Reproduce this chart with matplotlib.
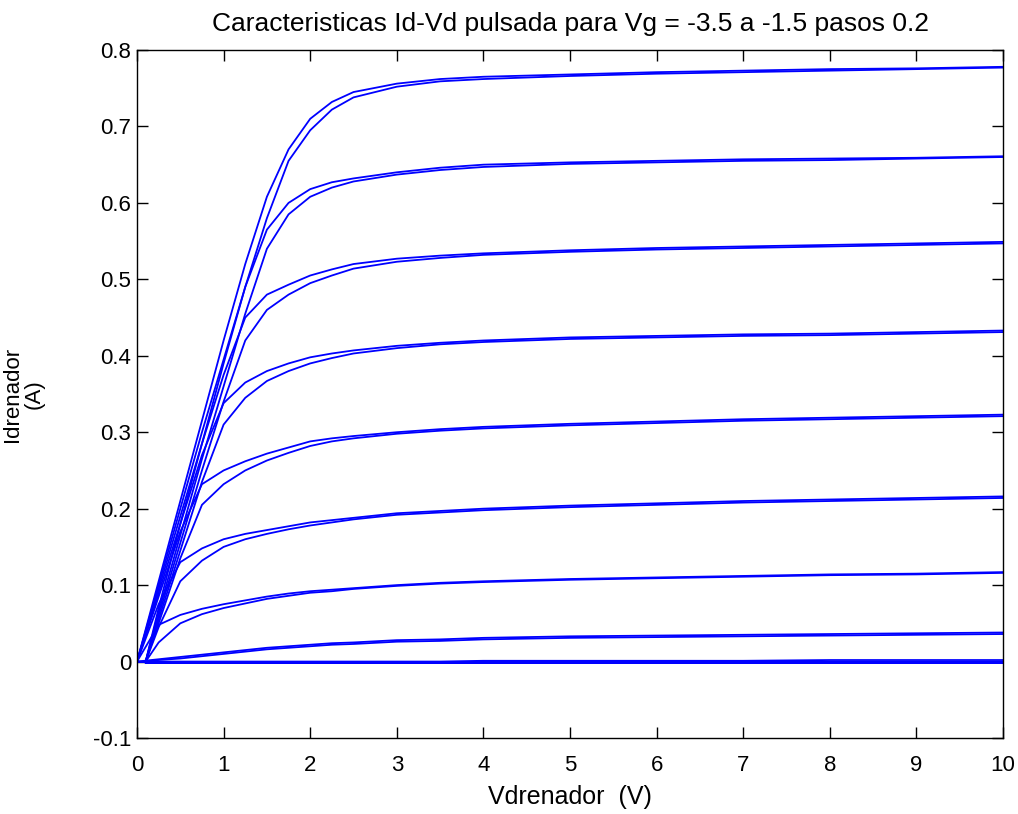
import matplotlib
matplotlib.use("Agg")
import matplotlib.pyplot as plt

plt.rcParams['font.family'] = ['Liberation Sans', 'DejaVu Sans']

# Drain voltage grids (V)
vd_a = [0, 0.25, 0.5, 0.75, 1.0, 1.25, 1.5, 1.75, 2.0, 2.25, 2.5, 3.0, 3.5, 4.0, 5, 6, 7, 8, 9, 10]
vd_b = [0.1, 0.25, 0.5, 0.75, 1.0, 1.25, 1.5, 1.75, 2.0, 2.25, 2.5, 3.0, 3.5, 4.0, 5, 6, 7, 8, 9, 10]

# Drain current (A), sweep A, Vg = -1.5 ... -3.5
id_a_m15 = [0, 0.105, 0.21, 0.315, 0.42, 0.52, 0.608, 0.67, 0.71, 0.732, 0.745, 0.756, 0.762, 0.765, 0.768, 0.771, 0.773, 0.775, 0.776, 0.778]
id_a_m17 = [0, 0.10, 0.20, 0.30, 0.395, 0.49, 0.565, 0.60, 0.618, 0.627, 0.632, 0.64, 0.646, 0.65, 0.653, 0.655, 0.657, 0.658, 0.659, 0.661]
id_a_m19 = [0, 0.095, 0.19, 0.285, 0.375, 0.45, 0.48, 0.493, 0.505, 0.513, 0.52, 0.527, 0.531, 0.534, 0.538, 0.541, 0.543, 0.545, 0.547, 0.549]
id_a_m21 = [0, 0.09, 0.18, 0.27, 0.338, 0.365, 0.38, 0.39, 0.398, 0.403, 0.407, 0.413, 0.417, 0.42, 0.424, 0.426, 0.428, 0.429, 0.431, 0.433]
id_a_m23 = [0, 0.085, 0.17, 0.232, 0.25, 0.262, 0.272, 0.28, 0.288, 0.292, 0.295, 0.30, 0.304, 0.307, 0.311, 0.314, 0.317, 0.319, 0.321, 0.323]
id_a_m25 = [0, 0.075, 0.13, 0.148, 0.16, 0.167, 0.172, 0.177, 0.182, 0.185, 0.188, 0.194, 0.197, 0.20, 0.204, 0.207, 0.21, 0.212, 0.214, 0.216]
id_a_m27 = [0, 0.048, 0.061, 0.069, 0.075, 0.08, 0.085, 0.089, 0.092, 0.094, 0.096, 0.10, 0.103, 0.105, 0.108, 0.11, 0.112, 0.114, 0.115, 0.117]
id_a_m29 = [0, 0.003, 0.006, 0.009, 0.012, 0.015, 0.018, 0.02, 0.022, 0.024, 0.025, 0.028, 0.029, 0.031, 0.033, 0.034, 0.035, 0.036, 0.037, 0.038]
id_a_m31 = [0, 0, 0, 0, 0, 0, 0, 0, 0, 0, 0, 0, 0, 0.001, 0.001, 0.001, 0.001, 0.002, 0.002, 0.002]
id_a_m33 = [0, 0, 0, 0, 0, 0, 0, 0, 0, 0, 0, 0, 0, 0, 0, 0, 0, 0, 0, 0]
id_a_m35 = [0, 0, 0, 0, 0, 0, 0, 0, 0, 0, 0, 0, 0, 0, 0, 0, 0, 0, 0, 0]

# Drain current (A), sweep B
id_b_m15 = [0, 0.07, 0.18, 0.285, 0.39, 0.49, 0.58, 0.655, 0.695, 0.722, 0.738, 0.752, 0.759, 0.762, 0.766, 0.769, 0.771, 0.773, 0.775, 0.777]
id_b_m17 = [0, 0.065, 0.165, 0.265, 0.36, 0.455, 0.54, 0.585, 0.608, 0.62, 0.628, 0.637, 0.643, 0.647, 0.651, 0.653, 0.655, 0.656, 0.658, 0.66]
id_b_m19 = [0, 0.06, 0.155, 0.25, 0.34, 0.42, 0.46, 0.48, 0.495, 0.505, 0.514, 0.523, 0.528, 0.532, 0.536, 0.539, 0.541, 0.543, 0.545, 0.547]
id_b_m21 = [0, 0.055, 0.145, 0.235, 0.31, 0.345, 0.367, 0.38, 0.39, 0.397, 0.403, 0.41, 0.415, 0.418, 0.422, 0.424, 0.426, 0.427, 0.429, 0.431]
id_b_m23 = [0, 0.05, 0.135, 0.205, 0.232, 0.25, 0.263, 0.273, 0.282, 0.288, 0.292, 0.298, 0.302, 0.305, 0.309, 0.312, 0.315, 0.317, 0.319, 0.321]
id_b_m25 = [0, 0.045, 0.105, 0.132, 0.15, 0.16, 0.167, 0.173, 0.178, 0.182, 0.186, 0.192, 0.195, 0.198, 0.202, 0.205, 0.208, 0.21, 0.212, 0.214]
id_b_m27 = [0, 0.025, 0.05, 0.062, 0.07, 0.076, 0.082, 0.086, 0.09, 0.092, 0.095, 0.099, 0.102, 0.104, 0.107, 0.109, 0.111, 0.113, 0.114, 0.116]
id_b_m29 = [0, 0.002, 0.004, 0.007, 0.01, 0.013, 0.016, 0.018, 0.02, 0.022, 0.023, 0.026, 0.027, 0.029, 0.031, 0.032, 0.033, 0.034, 0.035, 0.036]
id_b_m31 = [-0.002, -0.002, -0.002, -0.002, -0.002, -0.002, -0.002, -0.002, -0.002, -0.002, -0.002, -0.002, -0.002, -0.001, -0.001, -0.001, -0.001, -0.001, -0.001, -0.001]
id_b_m33 = [-0.002, -0.002, -0.002, -0.002, -0.002, -0.002, -0.002, -0.002, -0.002, -0.002, -0.002, -0.002, -0.002, -0.002, -0.002, -0.002, -0.002, -0.002, -0.002, -0.002]
id_b_m35 = [-0.002, -0.002, -0.002, -0.002, -0.002, -0.002, -0.002, -0.002, -0.002, -0.002, -0.002, -0.002, -0.002, -0.002, -0.002, -0.002, -0.002, -0.002, -0.002, -0.002]

sweep_a = [id_a_m15, id_a_m17, id_a_m19, id_a_m21, id_a_m23, id_a_m25, id_a_m27, id_a_m29, id_a_m31, id_a_m33, id_a_m35]
sweep_b = [id_b_m15, id_b_m17, id_b_m19, id_b_m21, id_b_m23, id_b_m25, id_b_m27, id_b_m29, id_b_m31, id_b_m33, id_b_m35]

x_ticks = [0, 1, 2, 3, 4, 5, 6, 7, 8, 9, 10]
y_ticks = [-0.1, 0, 0.1, 0.2, 0.3, 0.4, 0.5, 0.6, 0.7, 0.8]
y_tick_labels = ['-0.1', '0', '0.1', '0.2', '0.3', '0.4', '0.5', '0.6', '0.7', '0.8']

fig = plt.figure(figsize=(10.18, 8.14), dpi=100)
ax = fig.add_axes([137 / 1018, 76 / 814, 866 / 1018, 688 / 814])

for ya, yb in zip(sweep_a, sweep_b):
    ax.plot(vd_a, ya, color=(0, 0, 1), lw=1.3)
    ax.plot(vd_b, yb, color=(0, 0, 1), lw=1.3)

ax.set_xlim(0, 10)
ax.set_ylim(-0.1, 0.8)
ax.set_xticks(x_ticks)
ax.set_xticklabels([str(t) for t in x_ticks])
ax.set_yticks(y_ticks)
ax.set_yticklabels(y_tick_labels)
ax.tick_params(direction='in', length=8, width=1, top=True, right=True,
               labelsize=16, colors='black')
ax.tick_params(axis='x', pad=12)
ax.tick_params(axis='y', pad=4)
for s in ax.spines.values():
    s.set_linewidth(1.0)
    s.set_color('black')

ax.set_title('Caracteristicas Id-Vd pulsada para Vg = -3.5 a -1.5 pasos 0.2',
             fontsize=19, pad=14)
ax.set_xlabel('Vdrenador  (V)', fontsize=18, labelpad=7)
ax.set_ylabel('Idrenador\n(A)', fontsize=16, linespacing=1.0)
ax.yaxis.set_label_coords(-0.107, 0.5)

fig.savefig('out.png', dpi=100, facecolor='white')
